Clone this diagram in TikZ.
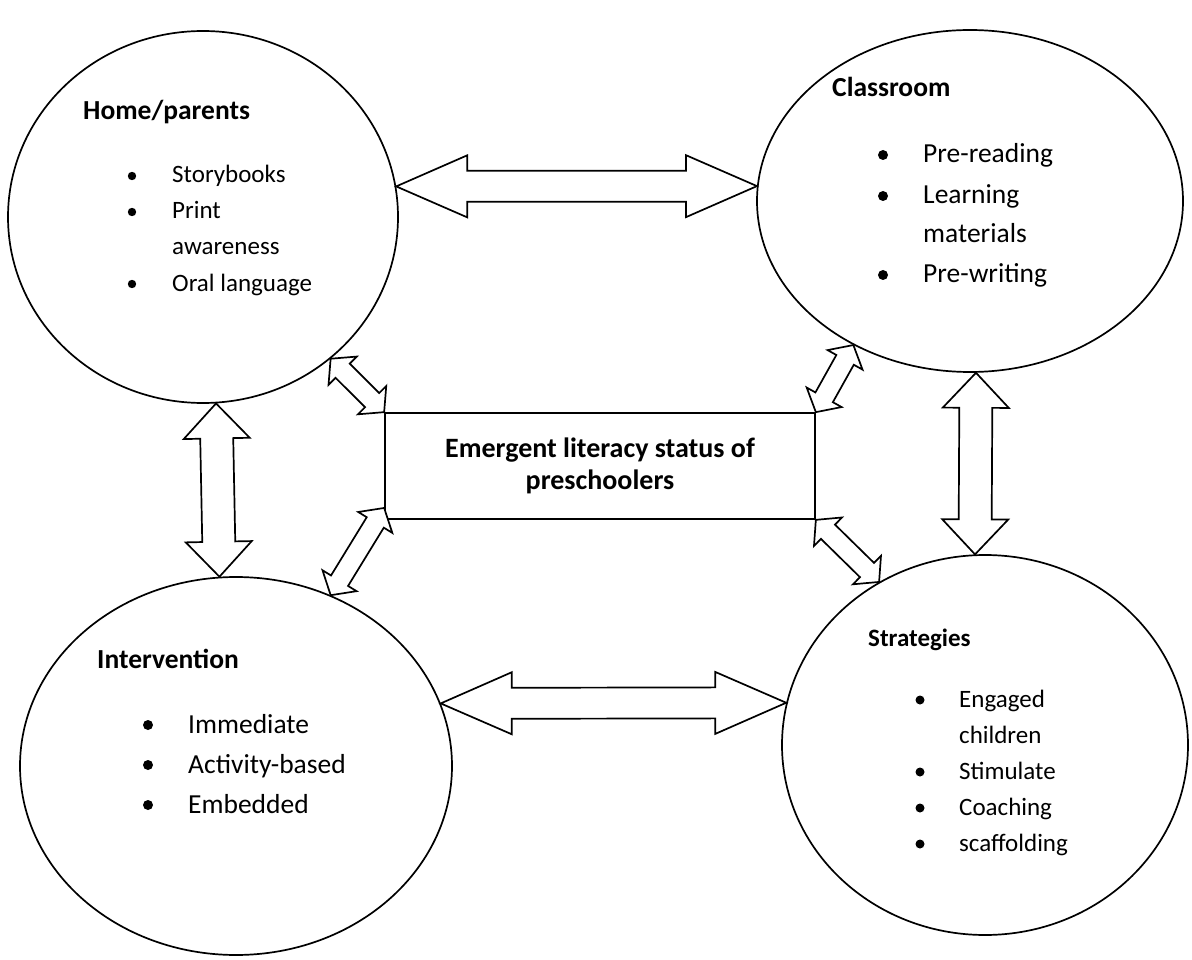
\documentclass[tikz,border=0pt]{standalone}
\usepackage{fontspec}
\setmainfont{Carlito}
\usetikzlibrary{shapes.geometric,calc}

\tikzset{
  blob/.style={draw,ellipse,line width=1.7pt,inner sep=0pt},
  heading/.style={anchor=base west,inner sep=0pt,font=\fontsize{27.5}{33}\selectfont\bfseries},
  entry/.style={anchor=base west,inner sep=0pt,font=\fontsize{25}{30}\selectfont},
  bigentry/.style={anchor=base west,inner sep=0pt,font=\fontsize{27.5}{33}\selectfont},
  arrowbody/.style={draw,fill=white,line width=1.7pt,line join=miter},
}

% fat two-headed arrow: from, to, head length, head half width, shaft half width
\newcommand{\twoway}[5]{%
  \coordinate (ha) at ($(#1)!#3!(#2)$);
  \coordinate (hb) at ($(#2)!#3!(#1)$);
  \draw[arrowbody] (#1) -- ($(ha)!#4!90:(#2)$) -- ($(ha)!#5!90:(#2)$)
    -- ($(hb)!#5!-90:(#1)$) -- ($(hb)!#4!-90:(#1)$) -- (#2)
    -- ($(hb)!#4!90:(#1)$) -- ($(hb)!#5!90:(#1)$)
    -- ($(ha)!#5!-90:(#2)$) -- ($(ha)!#4!-90:(#2)$) -- cycle;
}

\begin{document}
\begin{tikzpicture}[x=1pt,y=-1pt]
  \fill[white] (0,0) rectangle (1192,960);
  \useasboundingbox (0,0) rectangle (1192,960);
  % circles and centre box
  \node[blob,minimum width=390pt,minimum height=372pt] (home) at (203,217) {};
  \node[blob,minimum width=426pt,minimum height=342pt] (class) at (970,201) {};
  \node[blob,minimum width=432pt,minimum height=378pt] (inter) at (236,766) {};
  \node[blob,minimum width=406pt,minimum height=380pt] (strat) at (985,745) {};
  \node[draw,line width=1.7pt,minimum width=430pt,minimum height=106pt,inner sep=0pt,
        align=center,font=\fontsize{28}{32}\selectfont\bfseries] (status) at (600,466)
        {Emergent literacy status of\\preschoolers};
  % home
  \node[heading] (homet) at (83,120) {Home/parents};
  \node[entry] (h1) at (172,183) {Storybooks};
  \node[entry] (h2) at (172,219) {Print};
  \node[entry] (h3) at (172,255) {awareness};
  \node[entry] (h4) at (172,291) {Oral language};
  \fill (132,176) circle (4.2pt);
  \fill (132,212) circle (4.2pt);
  \fill (132,284) circle (4.2pt);
  % classroom
  \node[heading] (classt) at (832,97) {Classroom};
  \node[bigentry] (c1) at (923,163) {Pre-reading};
  \node[bigentry] (c2) at (923,204) {Learning};
  \node[bigentry] (c3) at (923,243) {materials};
  \node[bigentry] (c4) at (923,283) {Pre-writing};
  \fill (883,155) circle (5pt);
  \fill (883,196) circle (5pt);
  \fill (883,275) circle (5pt);
  % intervention
  \node[heading] (intert) at (97,668) {Intervention};
  \node[bigentry] (i1) at (188,733) {Immediate};
  \node[bigentry] (i2) at (188,773) {Activity-based};
  \node[bigentry] (i3) at (188,813) {Embedded};
  \fill (148,725) circle (5pt);
  \fill (148,765) circle (5pt);
  \fill (148,805) circle (5pt);
  % strategies
  \node[heading,font=\fontsize{25}{30}\selectfont\bfseries] (stratt) at (868,646) {Strategies};
  \node[entry] (s1) at (959,707) {Engaged};
  \node[entry] (s2) at (959,743) {children};
  \node[entry] (s3) at (959,779) {Stimulate};
  \node[entry] (s4) at (959,815) {Coaching};
  \node[entry] (s5) at (959,851) {scaffolding};
  \fill (920,700) circle (4.5pt);
  \fill (920,772) circle (4.5pt);
  \fill (920,808) circle (4.5pt);
  \fill (920,844) circle (4.5pt);
  % arrows
  \twoway{home.9}{class.176}{71pt}{31pt}{15.5pt}
  \twoway{inter.17}{strat.168}{71pt}{31pt}{15.5pt}
  \twoway{home.274}{inter.95}{35pt}{33pt}{16.5pt}
  \twoway{class.272}{strat.93}{35pt}{33pt}{16.5pt}
  \twoway{home.312}{status.north west}{17pt}{20pt}{10pt}
  \twoway{class.231}{status.north east}{17pt}{20pt}{10pt}
  \twoway{inter.61}{status.191}{17pt}{20pt}{10pt}
  \twoway{strat.123}{status.south east}{17pt}{20pt}{10pt}
\end{tikzpicture}
\end{document}
